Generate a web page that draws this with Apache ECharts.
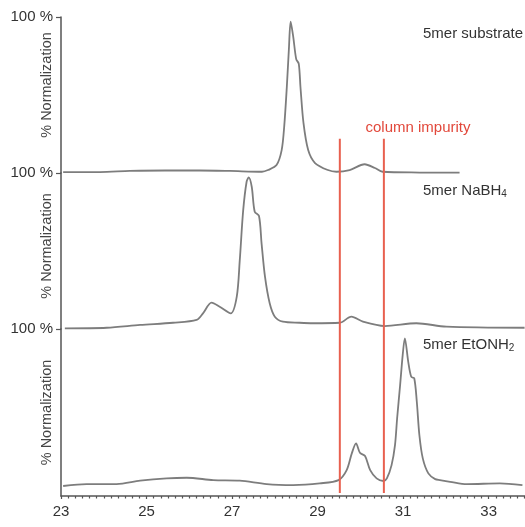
<!DOCTYPE html>
<html>
<head>
<meta charset="utf-8">
<script src="https://cdn.jsdelivr.net/npm/echarts@6/dist/echarts.min.js"></script>
<style>
  html, body { margin: 0; padding: 0; background: #fff; }
  #chart { width: 525px; height: 527px; }
</style>
</head>
<body>
<div id="chart"></div>
<script>
// Retention time (min) and normalized signal (%) for each chromatogram
const rtSubstrate = [23.05, 23.91, 24.61, 25.43, 26.25, 26.95, 27.70, 27.84, 28.04, 28.16, 28.22, 28.28, 28.33, 28.37, 28.43, 28.50, 28.56, 28.60, 28.67, 28.78, 28.94, 29.24, 29.44, 29.75, 30.10, 30.34, 30.52, 31.39, 32.32];
const normSubstrate = [0.6, 0.6, 1.3, 1.6, 1.6, 1.3, 0.8, 1.9, 5.1, 14.7, 30.0, 55.0, 80.0, 97.0, 87.4, 73.0, 70.0, 55.0, 32.1, 14.7, 6.4, 1.9, 0.8, 1.9, 5.6, 3.2, 0.8, 0.3, 0.2];

const rtNaBH4 = [23.09, 24.07, 24.85, 25.62, 26.17, 26.32, 26.52, 26.71, 26.97, 27.11, 27.18, 27.26, 27.34, 27.39, 27.46, 27.53, 27.63, 27.69, 27.77, 27.88, 28.00, 28.19, 28.58, 28.89, 29.52, 29.79, 30.06, 30.57, 31.31, 32.01, 33.84];
const normNaBH4 = [0.4, 0.8, 2.6, 4.0, 5.8, 10.0, 16.9, 14.3, 10.0, 20.7, 44.0, 76.0, 94.4, 97.2, 91.2, 75.2, 72.4, 54.9, 33.5, 16.5, 7.9, 4.7, 4.0, 3.7, 4.0, 7.9, 4.7, 1.9, 3.7, 1.5, 0.8];

const rtEtONH2 = [23.05, 23.60, 24.30, 24.85, 25.47, 25.94, 26.56, 27.18, 27.81, 28.43, 29.05, 29.49, 29.68, 29.80, 29.90, 29.99, 30.11, 30.23, 30.38, 30.54, 30.62, 30.73, 30.81, 30.86, 30.93, 30.99, 31.04, 31.12, 31.19, 31.26, 31.32, 31.38, 31.46, 31.59, 31.75, 31.86, 32.10, 32.49, 33.26, 33.79];
const normEtONH2 = [-0.6, 0.6, 0.6, 2.8, 4.3, 4.7, 3.2, 2.8, 0.6, 0.0, 1.1, 3.2, 9.6, 20.3, 26.7, 20.7, 18.6, 9.6, 4.3, 2.6, 4.3, 12.8, 25.6, 42.8, 64.1, 83.3, 94.0, 79.0, 69.4, 68.4, 53.4, 32.1, 17.1, 7.5, 3.8, 3.2, 2.1, 0.6, 1.1, 0.0];

// Column impurity window (min)
const impurityRt = [29.52, 30.55];
// Extent of the impurity markers on the stacked overlay scale (panel units)
const impuritySpan = [-5, 222];

const xTicks = ['23', '25', '27', '29', '31', '33'];
const yTickLabel = '100 %';
const yName = '% Normalization';

const FONT = '"Liberation Sans", Arial, sans-serif';
const TRACE = '#7d7d7d';
const AXIS = '#555';
const RED = '#e8604f';

const zip = (xs, ys) => xs.map((x, i) => [x, ys[i]]);

const xMin = Number(xTicks[0]);
const xMax = 33.85;

const gridBase = { left: 61, right: 0, containLabel: false, outerBoundsMode: 'none' };
const grids = [
  Object.assign({ top: 17, height: 156 }, gridBase),
  Object.assign({ top: 173, height: 156 }, gridBase),
  Object.assign({ top: 329, bottom: 31 }, gridBase),
  Object.assign({ top: 17, bottom: 31 }, gridBase)
];

const xAxes = grids.map((g, i) => {
  const shown = i === 2;
  return {
    type: 'value', gridIndex: i, min: xMin, max: xMax, interval: 2,
    show: shown,
    axisLine: { show: shown, onZero: false, lineStyle: { color: AXIS, width: 1.5 } },
    axisTick: { show: shown, length: 3, lineStyle: { color: AXIS, width: 1.2 } },
    minorTick: { show: shown, splitNumber: 12, length: 2.5, lineStyle: { color: AXIS, width: 1.2 } },
    axisLabel: {
      show: shown, fontSize: 15, fontFamily: FONT, color: '#333', margin: 8,
      formatter: v => xTicks.includes(String(v)) ? String(v) : ''
    },
    splitLine: { show: false }
  };
});

const panelMins = [0, 0, -7];
const yAxes = panelMins.map((mn, i) => ({
  type: 'value', gridIndex: i, min: mn, max: 100,
  axisLine: { show: true, onZero: false, lineStyle: { color: AXIS, width: 1.5 } },
  axisTick: { show: true, customValues: [100], length: 5, lineStyle: { color: AXIS, width: 1.2 } },
  axisLabel: {
    show: true, customValues: [100], margin: 8, fontSize: 15, fontFamily: FONT, color: '#333',
    formatter: () => yTickLabel
  },
  splitLine: { show: false },
  name: yName, nameLocation: 'middle', nameGap: 7, nameMoveOverlap: false,
  nameTextStyle: {
    fontSize: 14.5, fontFamily: FONT, color: '#444',
    padding: i === 0 ? [0, 0, 0, 20] : [0, 0, 0, i === 1 ? 10 : 0]
  }
}));
yAxes.push({ type: 'value', gridIndex: 3, min: -7, max: 300, show: false });

const traceSeries = [normSubstrate, normNaBH4, normEtONH2].map((vals, i) => ({
  type: 'line', xAxisIndex: i, yAxisIndex: i,
  data: zip([rtSubstrate, rtNaBH4, rtEtONH2][i], vals),
  showSymbol: false, smooth: 0.3, clip: false, silent: true,
  lineStyle: { color: TRACE, width: 1.8 }
}));

const impuritySeries = impurityRt.map(rt => ({
  type: 'line', xAxisIndex: 3, yAxisIndex: 3, z: 5,
  data: impuritySpan.map(v => [rt, v]),
  showSymbol: false, silent: true,
  lineStyle: { color: RED, width: 2 }
}));

const labelText = (x, y, text, fill, align) => ({
  type: 'text', x, y, silent: true,
  style: {
    text, fill: fill || '#333', font: '15px ' + FONT,
    verticalAlign: 'middle', align: align || 'left',
    rich: {
      sub: { fontSize: 10, fontFamily: FONT, fill: fill || '#333', padding: [7, 0, 0, 0] }
    }
  }
});

const chart = echarts.init(document.getElementById('chart'), null, { renderer: 'canvas' });
chart.setOption({
  backgroundColor: '#fff',
  animation: false,
  grid: grids,
  xAxis: xAxes,
  yAxis: yAxes,
  series: traceSeries.concat(impuritySeries),
  graphic: [
    labelText(423, 34, '5mer substrate'),
    labelText(423, 191, '5mer NaBH{sub|4}'),
    labelText(423, 345, '5mer EtONH{sub|2}'),
    labelText(418, 128, 'column impurity', '#e2483b', 'center')
  ]
});
</script>
</body>
</html>
